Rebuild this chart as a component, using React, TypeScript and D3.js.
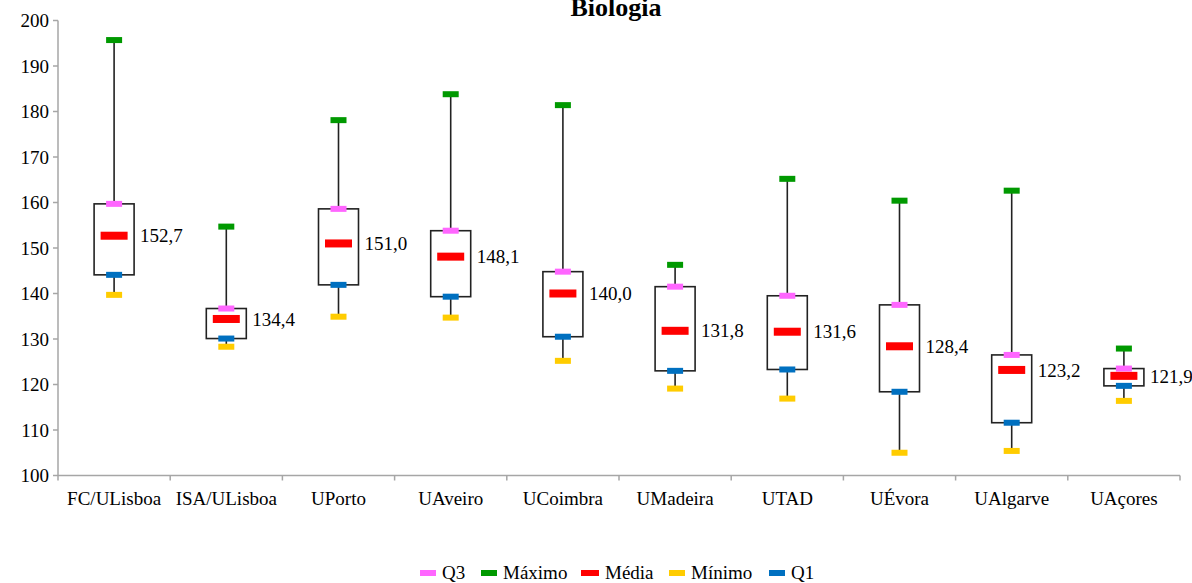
import React from 'react';
import * as d3 from 'd3';

// values
const categories = ['FC/ULisboa', 'ISA/ULisboa', 'UPorto', 'UAveiro', 'UCoimbra', 'UMadeira', 'UTAD', 'UÉvora', 'UAlgarve', 'UAçores'];
const maxVals = [195.7, 154.7, 178.1, 183.8, 181.4, 146.3, 165.2, 160.4, 162.6, 127.9];
const q3Vals = [159.7, 136.7, 158.6, 153.8, 144.8, 141.5, 139.5, 137.5, 126.5, 123.5];
const meanVals = [152.7, 134.4, 151.0, 148.1, 140.0, 131.8, 131.6, 128.4, 123.2, 121.9];
const q1Vals = [144.1, 130.1, 141.9, 139.3, 130.5, 123.0, 123.3, 118.4, 111.6, 119.7];
const minVals = [139.7, 128.3, 134.9, 134.7, 125.2, 119.1, 116.9, 105.0, 105.4, 116.4];
const yTicks = [100, 110, 120, 130, 140, 150, 160, 170, 180, 190, 200];

const legendItems = [
  { label: 'Q3', color: '#FF66FF' },
  { label: 'Máximo', color: '#009900' },
  { label: 'Média', color: '#FF0000' },
  { label: 'Mínimo', color: '#FFCC00' },
  { label: 'Q1', color: '#0070C0' },
];

const width = 1192;
const height = 583;
const margin = { top: 20.5, right: 12, bottom: 107.5, left: 58 };
const font = "'Liberation Serif', 'Times New Roman', serif";

const App: React.FC = () => {
  const x = d3.scaleBand<string>()
    .domain(categories)
    .range([margin.left, width - margin.right]);
  const y = d3.scaleLinear()
    .domain([100, 200])
    .range([height - margin.bottom, margin.top]);

  const boxW = 40;
  const markW = 16;
  const markH = 6;
  const fmt = (v: number) => v.toFixed(1).replace('.', ',');

  const marker = (cx: number, v: number, color: string, key: string) => (
    <rect key={key} x={cx - markW / 2} y={y(v) - markH / 2} width={markW} height={markH} fill={color} />
  );

  const legendX = [420, 481, 581, 669, 769];
  const txt = { fontFamily: font, fontSize: '19px' };

  return (
    <svg width={width} height={height} style={{ position: 'absolute', left: 0, top: 0, background: '#fff', fontFamily: font }}>
      <text x={616} y={16} textAnchor="middle" style={{ fontFamily: font, fontSize: '26px', fontWeight: 'bold' }}>Biologia</text>

      {/* y axis */}
      <line x1={margin.left} x2={margin.left} y1={y(200)} y2={y(100)} stroke="#A6A6A6" strokeWidth={1.5} />
      {yTicks.map(t => (
        <g key={t}>
          <line x1={margin.left - 5} x2={margin.left} y1={y(t)} y2={y(t)} stroke="#A6A6A6" strokeWidth={1.5} />
          <text x={margin.left - 9} y={y(t)} dy="0.35em" textAnchor="end" style={txt}>{t}</text>
        </g>
      ))}

      {/* x axis */}
      <line x1={margin.left} x2={width - margin.right} y1={y(100)} y2={y(100)} stroke="#A6A6A6" strokeWidth={1.5} />
      {categories.map(c => (
        <line key={'tk' + c} x1={x(c)!} x2={x(c)!} y1={y(100)} y2={y(100) + 5} stroke="#A6A6A6" strokeWidth={1.5} />
      ))}
      <line x1={width - margin.right} x2={width - margin.right} y1={y(100)} y2={y(100) + 5} stroke="#A6A6A6" strokeWidth={1.5} />
      {categories.map(c => (
        <text key={'lb' + c} x={x(c)! + x.bandwidth() / 2} y={505} textAnchor="middle" style={txt}>{c}</text>
      ))}

      {/* boxes */}
      {categories.map((c, i) => {
        const cx = x(c)! + x.bandwidth() / 2;
        return (
          <g key={'bx' + c}>
            <line x1={cx} x2={cx} y1={y(maxVals[i])} y2={y(q3Vals[i])} stroke="#222" strokeWidth={1.6} />
            <line x1={cx} x2={cx} y1={y(q1Vals[i])} y2={y(minVals[i])} stroke="#222" strokeWidth={1.6} />
            <rect x={cx - boxW / 2} y={y(q3Vals[i])} width={boxW} height={y(q1Vals[i]) - y(q3Vals[i])}
              fill="#fff" stroke="#222" strokeWidth={1.6} />
            {marker(cx, maxVals[i], '#009900', 'max')}
            {marker(cx, q3Vals[i], '#FF66FF', 'q3')}
            {marker(cx, q1Vals[i], '#0070C0', 'q1')}
            {marker(cx, minVals[i], '#FFCC00', 'min')}
            <rect x={cx - 13.5} y={y(meanVals[i]) - 4} width={27} height={8} fill="#FF0000" />
            <text x={cx + boxW / 2 + 6} y={y(meanVals[i])} dy="0.35em" style={txt}>{fmt(meanVals[i])}</text>
          </g>
        );
      })}

      {/* legend */}
      {legendItems.map((d, i) => (
        <g key={d.label}>
          <rect x={legendX[i]} y={570} width={d.label === 'Média' ? 18 : 16} height={6} fill={d.color} />
          <text x={legendX[i] + (d.label === 'Média' ? 24 : 22)} y={579} style={txt}>{d.label}</text>
        </g>
      ))}
    </svg>
  );
};

export default App;
